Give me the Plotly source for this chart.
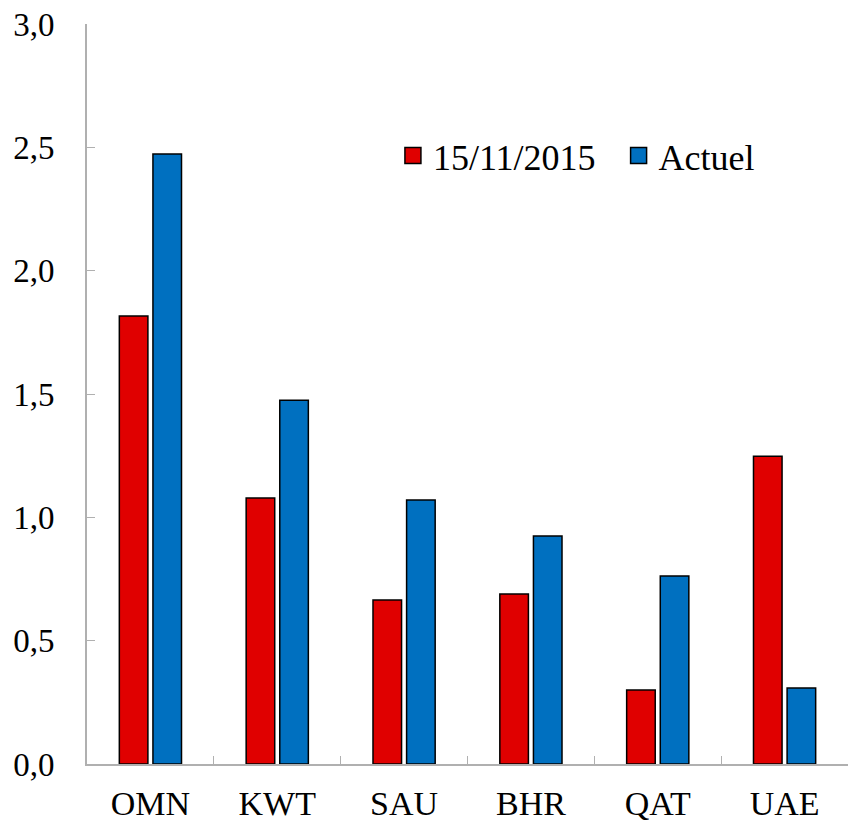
import plotly.graph_objects as go

categories = ["OMN", "KWT", "SAU", "BHR", "QAT", "UAE"]
series_2015 = [1.816, 1.078, 0.665, 0.689, 0.300, 1.248]
series_actuel = [2.473, 1.475, 1.070, 0.924, 0.762, 0.308]
series_names = ["15/11/2015", "Actuel"]
y_ticks = [0, 0.5, 1.0, 1.5, 2.0, 2.5, 3.0]
y_ticklabels = ["0,0", "0,5", "1,0", "1,5", "2,0", "2,5", "3,0"]

RED = "#E00000"
BLUE = "#0070C0"
FONT = "Liberation Serif"

fig = go.Figure()
fig.add_trace(go.Bar(x=categories, y=series_2015, name=series_names[0],
                     marker=dict(color=RED, line=dict(color="black", width=1.5)),
                     showlegend=False))
fig.add_trace(go.Bar(x=categories, y=series_actuel, name=series_names[1],
                     marker=dict(color=BLUE, line=dict(color="black", width=1.5)),
                     showlegend=False))
for i, (name, col) in enumerate(zip(series_names, [RED, BLUE])):
    label = name + ("\u00a0\u00a0" if i == 0 else "")
    fig.add_trace(go.Scatter(x=[None], y=[None], mode="markers", name=label,
                             marker=dict(symbol="square", size=16, color=col,
                                         line=dict(color="black", width=1.5))))

fig.update_layout(
    width=848, height=827,
    margin=dict(l=87, r=0, t=24, b=63),
    paper_bgcolor="white", plot_bgcolor="white",
    barmode="group", bargap=0.47, bargroupgap=0.15,
    font=dict(family=FONT, size=33, color="black"),
    legend=dict(orientation="h", x=0.402, y=0.822, xanchor="left", yanchor="middle",
                font=dict(family=FONT, size=36), bgcolor="rgba(0,0,0,0)",
                itemsizing="trace"),
)
fig.update_xaxes(showline=True, linecolor="#B0B0B0", linewidth=2,
                 ticks="inside", ticklen=8, tickcolor="#B0B0B0",
                 tickson="boundaries", showgrid=False, ticklabelstandoff=8,
                 automargin=False,
                 tickfont=dict(family=FONT, size=34))
fig.update_yaxes(range=[0, 3.0], tickvals=y_ticks, ticktext=y_ticklabels,
                 showline=True, linecolor="#B0B0B0", linewidth=2,
                 ticks="inside", ticklen=8, tickcolor="#B0B0B0",
                 showgrid=False, zeroline=False, ticklabelstandoff=24,
                 automargin=False,
                 tickfont=dict(family=FONT, size=33))

fig.write_html("out.html", config={"displayModeBar": False},
               post_script="document.body.style.margin='0';")
